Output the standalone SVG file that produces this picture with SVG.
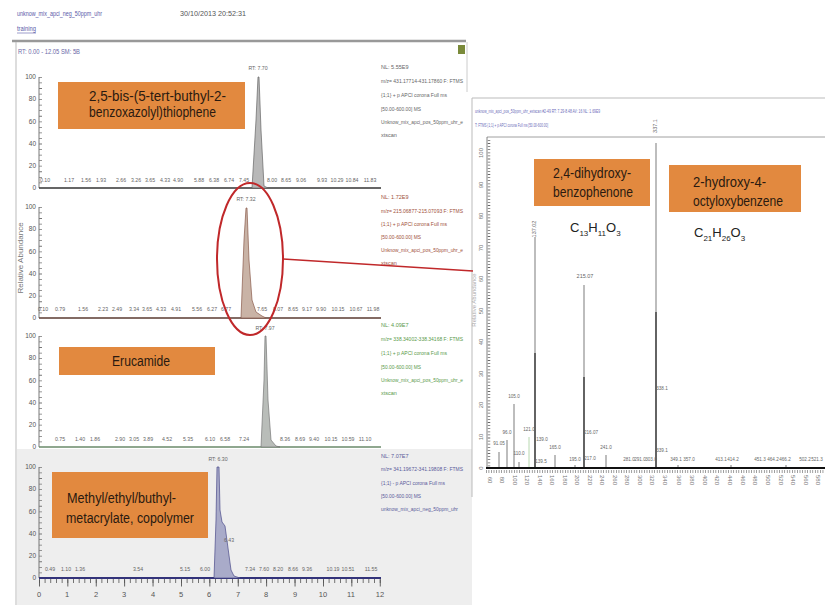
<svg xmlns="http://www.w3.org/2000/svg" width="825" height="605" viewBox="0 0 825 605">
<defs>
<style>
.t{font-family:"Liberation Sans Narrow","Liberation Sans",Arial,sans-serif}
.s{font-size:5.5px;fill:#666}
.ax{font-size:6.5px;fill:#555;text-anchor:end}
.bl{font-size:5.2px;fill:#666;text-anchor:middle}
.lab{font-size:14px;fill:#2a1a10}
.org{fill:#E2893F}
.yt{stroke:#777;stroke-width:3;stroke-dasharray:0.8 4.75;fill:none}
.yl{stroke:#555;stroke-width:0.8;fill:none}
.sp{stroke:#9a9a9a;stroke-width:1.3;fill:none}
.spd{stroke:#333;stroke-width:1.3;fill:none}
.pk{font-size:4.6px;fill:#666;text-anchor:middle}
</style>
</defs>
<rect width="825" height="605" fill="#fff"/>

<!-- left window header -->
<g id="left-window">
<text class="t" x="17" y="16" font-size="7" fill="#5a5aa8" textLength="85" lengthAdjust="spacingAndGlyphs">unknow_mix_apci_neg_50ppm_uhr</text>
<text class="t" x="17" y="31" font-size="7" fill="#5a5aa8" textLength="19" lengthAdjust="spacingAndGlyphs">training</text>
<line x1="17" y1="33" x2="36" y2="33" stroke="#5a5aa8" stroke-width="0.6"/>
<text class="t" x="180" y="16" font-size="7" fill="#555" textLength="66" lengthAdjust="spacingAndGlyphs">30/10/2013 20:52:31</text>
<line x1="12" y1="41" x2="466" y2="41" stroke="#999" stroke-width="2.5"/>
<line x1="16" y1="42" x2="16" y2="605" stroke="#bbb" stroke-width="1"/>
<line x1="467" y1="42" x2="467" y2="92" stroke="#ccc" stroke-width="1"/>
<rect x="458" y="45" width="7" height="9" fill="#7a8a3a"/>
<text class="t" x="18" y="54" font-size="6.5" fill="#6a6aa8" textLength="62" lengthAdjust="spacingAndGlyphs">RT: 0.00 - 12.05  SM: 5B</text>
<rect x="17" y="449" width="455" height="156" fill="#eeeeee"/>
<text class="t" transform="translate(23,258) rotate(-90)" font-size="8" fill="#777" text-anchor="middle">Relative Abundance</text>
</g>

<!-- panel 1 -->
<g id="panel1">
<line class="yl" x1="39" y1="77" x2="39" y2="188"/>
<line class="yt" x1="40.5" y1="77" x2="40.5" y2="188"/>
<g class="t ax"><text x="36" y="79">100</text><text x="36" y="101">80</text><text x="36" y="124">60</text><text x="36" y="146">40</text><text x="36" y="168">20</text><text x="36" y="190">0</text></g>
<line x1="39" y1="188" x2="381" y2="188" stroke="#333" stroke-width="1.5"/>
<polygon points="252,188 256,120 258,77 259,77 261,130 264,186 268,188" fill="#b8b8b8" stroke="#666" stroke-width="0.7"/>
<text class="t bl" x="258" y="70" font-size="6">RT: 7.70</text>
<g class="t bl"><text x="45" y="182">0.10</text><text x="69" y="182">1.17</text><text x="86" y="182">1.56</text><text x="101" y="182">1.93</text><text x="121" y="182">2.66</text><text x="136" y="182">3.26</text><text x="150" y="182">3.65</text><text x="165" y="182">4.33</text><text x="178" y="182">4.90</text><text x="199" y="182">5.88</text><text x="214" y="182">6.38</text><text x="229" y="182">6.74</text><text x="244" y="182">7.45</text><text x="272" y="182">8.00</text><text x="286" y="182">8.65</text><text x="301" y="182">9.06</text><text x="322" y="182">9.93</text><text x="337" y="182">10.29</text><text x="352" y="182">10.84</text><text x="370" y="182">11.83</text></g>
<g class="t s"><text x="381" y="69">NL: 5.55E9</text><text x="381" y="83" textLength="82" lengthAdjust="spacingAndGlyphs">m/z= 431.17714-431.17860 F: FTMS</text><text x="381" y="97" textLength="66" lengthAdjust="spacingAndGlyphs">{1;1} + p APCI corona Full ms</text><text x="381" y="111" textLength="40" lengthAdjust="spacingAndGlyphs">[50.00-600.00] MS</text><text x="381" y="124" textLength="82" lengthAdjust="spacingAndGlyphs">Unknow_mix_apci_pos_50ppm_uhr_e</text><text x="381" y="137">xtscan</text></g>
</g>
<g id="label1">
<rect class="org" x="58" y="82" width="187" height="47"/>
<text class="t lab" x="89" y="101" textLength="137" lengthAdjust="spacingAndGlyphs">2,5-bis-(5-tert-buthyl-2-</text>
<text class="t lab" x="89" y="117" textLength="127" lengthAdjust="spacingAndGlyphs">benzoxazolyl)thiophene</text>
</g>

<!-- panel 2 -->
<g id="panel2">
<line class="yl" x1="39" y1="207" x2="39" y2="318"/>
<line class="yt" x1="40.5" y1="207" x2="40.5" y2="318"/>
<g class="t ax"><text x="36" y="209">100</text><text x="36" y="231">80</text><text x="36" y="254">60</text><text x="36" y="276">40</text><text x="36" y="298">20</text><text x="36" y="320">0</text></g>
<line x1="39" y1="318" x2="381" y2="318" stroke="#5a3a30" stroke-width="1.5"/>
<polygon points="241,318 244,240 246,208 247,208 249,260 252,300 256,312 262,316 266,318" fill="#c9b3a6" stroke="#8a5a4a" stroke-width="0.7"/>
<text class="t bl" x="246" y="201" font-size="6">RT: 7.32</text>
<g class="t bl"><text x="43" y="311">0.10</text><text x="60" y="311">0.79</text><text x="83" y="311">1.56</text><text x="103" y="311">2.23</text><text x="117" y="311">2.49</text><text x="134" y="311">3.34</text><text x="147" y="311">3.65</text><text x="161" y="311">4.33</text><text x="176" y="311">4.91</text><text x="197" y="311">5.56</text><text x="212" y="311">6.27</text><text x="226" y="311">6.77</text><text x="262" y="311">7.65</text><text x="278" y="311">8.07</text><text x="293" y="311">8.65</text><text x="307" y="311">9.17</text><text x="321" y="311">9.90</text><text x="338" y="311">10.15</text><text x="356" y="311">10.67</text><text x="373" y="311">11.98</text></g>
<g class="t s" style="fill:#a0503a"><text x="381" y="199">NL: 1.72E9</text><text x="381" y="213" textLength="82" lengthAdjust="spacingAndGlyphs">m/z= 215.06877-215.07093 F: FTMS</text><text x="381" y="226" textLength="66" lengthAdjust="spacingAndGlyphs">{1;1} + p APCI corona Full ms</text><text x="381" y="239" textLength="40" lengthAdjust="spacingAndGlyphs">[50.00-600.00] MS</text><text x="381" y="252" textLength="82" lengthAdjust="spacingAndGlyphs">Unknow_mix_apci_pos_50ppm_uhr_e</text><text x="381" y="265">xtscan</text></g>
</g>

<!-- panel 3 -->
<g id="panel3">
<line class="yl" x1="39" y1="336" x2="39" y2="447"/>
<line class="yt" x1="40.5" y1="336" x2="40.5" y2="447"/>
<g class="t ax"><text x="36" y="338">100</text><text x="36" y="360">80</text><text x="36" y="383">60</text><text x="36" y="405">40</text><text x="36" y="427">20</text><text x="36" y="449">0</text></g>
<line x1="39" y1="447" x2="381" y2="447" stroke="#6a8a6a" stroke-width="1.5"/>
<polygon points="261,447 264,380 265,336 266,336 268,400 271,440 276,446 280,447" fill="#b9bdb9" stroke="#777" stroke-width="0.7"/>
<text class="t bl" x="265" y="330" font-size="6">RT: 7.97</text>
<g class="t bl"><text x="60" y="441">0.75</text><text x="80" y="441">1.40</text><text x="95" y="441">1.86</text><text x="120" y="441">2.90</text><text x="134" y="441">3.05</text><text x="148" y="441">3.89</text><text x="167" y="441">4.52</text><text x="188" y="441">5.35</text><text x="210" y="441">6.10</text><text x="225" y="441">6.58</text><text x="244" y="441">7.24</text><text x="285" y="441">8.36</text><text x="300" y="441">8.69</text><text x="314" y="441">9.40</text><text x="331" y="441">10.15</text><text x="348" y="441">10.59</text><text x="365" y="441">11.10</text></g>
<g class="t s" style="fill:#5a9a4a"><text x="381" y="327">NL: 4.09E7</text><text x="381" y="341" textLength="82" lengthAdjust="spacingAndGlyphs">m/z= 338.34002-338.34168 F: FTMS</text><text x="381" y="355" textLength="66" lengthAdjust="spacingAndGlyphs">{1;1} + p APCI corona Full ms</text><text x="381" y="369" textLength="40" lengthAdjust="spacingAndGlyphs">[50.00-600.00] MS</text><text x="381" y="382" textLength="82" lengthAdjust="spacingAndGlyphs">Unknow_mix_apci_pos_50ppm_uhr_e</text><text x="381" y="395">xtscan</text></g>
</g>
<g id="label3">
<rect class="org" x="59" y="347" width="156" height="28"/>
<text class="t lab" x="112" y="366" textLength="58" lengthAdjust="spacingAndGlyphs">Erucamide</text>
</g>

<!-- panel 4 -->
<g id="panel4">
<line class="yl" x1="39" y1="467" x2="39" y2="578"/>
<line class="yt" x1="40.5" y1="467" x2="40.5" y2="578"/>
<g class="t ax"><text x="36" y="469">100</text><text x="36" y="491">80</text><text x="36" y="514">60</text><text x="36" y="536">40</text><text x="36" y="558">20</text><text x="36" y="580">0</text></g>
<line x1="39" y1="578" x2="381" y2="578" stroke="#33337a" stroke-width="1.8"/>
<line x1="39" y1="581" x2="381" y2="581" stroke="#555" stroke-width="4" stroke-dasharray="0.8 4.88"/>
<line x1="39" y1="583" x2="381" y2="583" stroke="#555" stroke-width="7" stroke-dasharray="0.9 27.5"/>
<polygon points="214,578 216,520 217,467 219,467 220,510 222,522 225,526 228,548 231,570 234,576 240,578" fill="#a9abc9" stroke="#4a4a8a" stroke-width="0.7"/>
<text class="t bl" x="218" y="461" font-size="6">RT: 6.30</text>
<text class="t bl" x="229" y="542" font-size="6">6.43</text>
<g class="t bl"><text x="50" y="571">0.49</text><text x="66" y="571">1.10</text><text x="80" y="571">1.36</text><text x="138" y="571">3.54</text><text x="185" y="571">5.15</text><text x="205" y="571">6.00</text><text x="250" y="571">7.34</text><text x="264" y="571">7.60</text><text x="278" y="571">8.20</text><text x="293" y="571">8.66</text><text x="307" y="571">9.36</text><text x="333" y="571">10.19</text><text x="348" y="571">10.51</text><text x="371" y="571">11.55</text></g>
<g class="t" font-size="7.5" fill="#555" text-anchor="middle"><text x="39" y="597">0</text><text x="67" y="597">1</text><text x="96" y="597">2</text><text x="124" y="597">3</text><text x="153" y="597">4</text><text x="181" y="597">5</text><text x="209" y="597">6</text><text x="238" y="597">7</text><text x="266" y="597">8</text><text x="295" y="597">9</text><text x="323" y="597">10</text><text x="351" y="597">11</text><text x="380" y="597">12</text></g>
<g class="t s" style="fill:#5a5a9a"><text x="381" y="458">NL: 7.07E7</text><text x="381" y="471" textLength="82" lengthAdjust="spacingAndGlyphs">m/z= 341.19672-341.19808 F: FTMS</text><text x="381" y="485" textLength="64" lengthAdjust="spacingAndGlyphs">{1;1} - p APCI corona Full ms</text><text x="381" y="498" textLength="40" lengthAdjust="spacingAndGlyphs">[50.00-600.00] MS</text><text x="381" y="511" textLength="77" lengthAdjust="spacingAndGlyphs">unknow_mix_apci_neg_50ppm_uhr</text></g>
</g>
<g id="label4">
<rect class="org" x="52" y="472" width="156" height="66"/>
<text class="t lab" x="67" y="503" textLength="109" lengthAdjust="spacingAndGlyphs">Methyl/ethyl/buthyl-</text>
<text class="t lab" x="66" y="523" textLength="128" lengthAdjust="spacingAndGlyphs">metacrylate, copolymer</text>
</g>

<!-- spectrum window -->
<g id="spectrum-window">
<rect x="472" y="98" width="360" height="399" fill="#fff"/>
<line x1="472" y1="98" x2="825" y2="98" stroke="#bbb" stroke-width="1.2"/>
<line x1="472" y1="98" x2="472" y2="497" stroke="#bbb" stroke-width="1"/>
<text class="t" x="475" y="113" font-size="6" fill="#6a6ab8" textLength="125" lengthAdjust="spacingAndGlyphs">unknow_mix_apci_pos_50ppm_uhr_extscan #2-49 RT: 7.29-8.48 AV: 16 NL: 1.69E9</text>
<text class="t" x="475" y="127" font-size="6" fill="#6a6ab8" textLength="73" lengthAdjust="spacingAndGlyphs">T: FTMS {1;1} + p APCI corona Full ms [50.00-600.00]</text>
<line x1="487" y1="137" x2="825" y2="137" stroke="#888" stroke-width="0.8"/>
<line x1="487" y1="137" x2="487" y2="468" stroke="#666" stroke-width="0.8"/>
<line x1="489" y1="140" x2="489" y2="468" stroke="#666" stroke-width="2.5" stroke-dasharray="0.8 2.3"/>
<g class="t" font-size="6" fill="#777" text-anchor="middle">
<text transform="translate(483,153) rotate(-90)">100</text><text transform="translate(483,185) rotate(-90)">90</text><text transform="translate(483,216) rotate(-90)">80</text><text transform="translate(483,248) rotate(-90)">70</text><text transform="translate(483,279) rotate(-90)">60</text><text transform="translate(483,311) rotate(-90)">50</text><text transform="translate(483,342) rotate(-90)">40</text><text transform="translate(483,374) rotate(-90)">30</text><text transform="translate(483,405) rotate(-90)">20</text><text transform="translate(483,437) rotate(-90)">10</text><text transform="translate(483,468) rotate(-90)">0</text>
<text transform="translate(476,300) rotate(-90)" font-size="6" fill="#aaa">Relative Abundance</text>
</g>
<!-- peaks -->
<line class="sp" x1="499" y1="468" x2="499" y2="452"/>
<line class="sp" x1="507" y1="468" x2="507" y2="440"/>
<line class="sp" x1="514" y1="468" x2="514" y2="404"/>
<line class="sp" x1="519" y1="468" x2="519" y2="462"/>
<line x1="529" y1="468" x2="529" y2="437" stroke="#b8d8b0" stroke-width="1"/>
<line class="sp" x1="535" y1="468" x2="535" y2="237"/>
<line class="spd" x1="535" y1="468" x2="535" y2="353"/>
<line class="sp" x1="555" y1="468" x2="555" y2="455"/>
<line class="sp" x1="575" y1="468" x2="575" y2="465"/>
<line class="sp" x1="584" y1="468" x2="584" y2="285"/>
<line class="spd" x1="584" y1="468" x2="584" y2="377"/>
<line class="sp" x1="606" y1="468" x2="606" y2="455"/>
<line class="sp" x1="656" y1="468" x2="656" y2="143"/>
<line class="spd" x1="656" y1="468" x2="656" y2="312"/>
<line class="sp" x1="678" y1="468" x2="678" y2="465"/>
<line class="sp" x1="731" y1="468" x2="731" y2="465"/>
<line class="sp" x1="786" y1="468" x2="786" y2="465"/>
<g class="t pk">
<text x="499" y="445">91.05</text><text x="507" y="434">96.0</text><text x="514" y="398">105.0</text><text x="519" y="455">110.0</text><text x="529" y="431">121.0</text>
<text transform="translate(536,229) rotate(-90)" font-size="5.5">137.02</text>
<text x="542" y="441">139.0</text><text x="541" y="463">139.5</text><text x="555" y="449">165.0</text><text x="575" y="461">195.0</text>
<text x="585" y="278" font-size="5.5">215.07</text><text x="591" y="434">216.07</text><text x="590" y="460">217.0</text><text x="606" y="449">241.0</text>
<text x="629" y="461">281.0</text><text x="640" y="461">291.0</text><text x="651" y="461">303.0</text>
<text transform="translate(657,126) rotate(-90)" font-size="5.5">337.1</text><text x="662" y="390">338.1</text><text x="662" y="452">339.1</text>
<text x="676" y="461">349.1</text><text x="689" y="461">357.0</text><text x="721" y="461">413.1</text><text x="733" y="461">414.2</text>
<text x="760" y="461">451.3</text><text x="773" y="461">464.2</text><text x="785" y="461">466.2</text><text x="805" y="461">502.2</text><text x="817" y="461">521.3</text>
</g>
<line x1="486" y1="468" x2="825" y2="468" stroke="#111" stroke-width="2"/>
<line x1="486" y1="471.5" x2="825" y2="471.5" stroke="#777" stroke-width="3" stroke-dasharray="0.7 1.85"/>
<g class="t" font-size="6" fill="#777" text-anchor="middle">
<text transform="translate(488,480) rotate(90)">60</text><text transform="translate(500,480) rotate(90)">80</text><text transform="translate(513,480) rotate(90)">100</text><text transform="translate(525,480) rotate(90)">120</text><text transform="translate(538,480) rotate(90)">140</text><text transform="translate(550,480) rotate(90)">160</text><text transform="translate(563,480) rotate(90)">180</text><text transform="translate(575,480) rotate(90)">200</text><text transform="translate(588,480) rotate(90)">220</text><text transform="translate(600,480) rotate(90)">240</text><text transform="translate(613,480) rotate(90)">260</text><text transform="translate(625,480) rotate(90)">280</text><text transform="translate(638,480) rotate(90)">300</text><text transform="translate(650,480) rotate(90)">320</text><text transform="translate(663,480) rotate(90)">340</text><text transform="translate(677,480) rotate(90)">360</text><text transform="translate(690,480) rotate(90)">380</text><text transform="translate(703,480) rotate(90)">400</text><text transform="translate(715,480) rotate(90)">420</text><text transform="translate(728,480) rotate(90)">440</text><text transform="translate(741,480) rotate(90)">460</text><text transform="translate(753,480) rotate(90)">480</text><text transform="translate(766,480) rotate(90)">500</text><text transform="translate(779,480) rotate(90)">520</text><text transform="translate(791,480) rotate(90)">540</text><text transform="translate(804,480) rotate(90)">560</text><text transform="translate(816,480) rotate(90)">580</text>
</g>
</g>
<g id="labelA">
<rect class="org" x="534" y="159" width="116" height="47"/>
<text class="t lab" x="553" y="178" textLength="78" lengthAdjust="spacingAndGlyphs">2,4-dihydroxy-</text>
<text class="t lab" x="553" y="197" textLength="80" lengthAdjust="spacingAndGlyphs">benzophenone</text>
<text class="t" x="570" y="232" font-size="13" fill="#222">C<tspan font-size="8" dy="4">13</tspan><tspan dy="-4">H</tspan><tspan font-size="8" dy="4">11</tspan><tspan dy="-4">O</tspan><tspan font-size="8" dy="4">3</tspan></text>
</g>
<g id="labelB">
<rect class="org" x="669" y="165" width="132" height="47"/>
<text class="t lab" x="693" y="187" textLength="73" lengthAdjust="spacingAndGlyphs">2-hydroxy-4-</text>
<text class="t lab" x="693" y="206" textLength="90" lengthAdjust="spacingAndGlyphs">octyloxybenzene</text>
<text class="t" x="694" y="237" font-size="13" fill="#222">C<tspan font-size="8" dy="4">21</tspan><tspan dy="-4">H</tspan><tspan font-size="8" dy="4">26</tspan><tspan dy="-4">O</tspan><tspan font-size="8" dy="4">3</tspan></text>
</g>

<!-- connectors -->
<g id="connectors">
<ellipse cx="250" cy="259" rx="33" ry="76" fill="none" stroke="#c0282a" stroke-width="2"/>
<line x1="283" y1="259" x2="473" y2="271" stroke="#c0282a" stroke-width="1.5"/>
</g>
</svg>
